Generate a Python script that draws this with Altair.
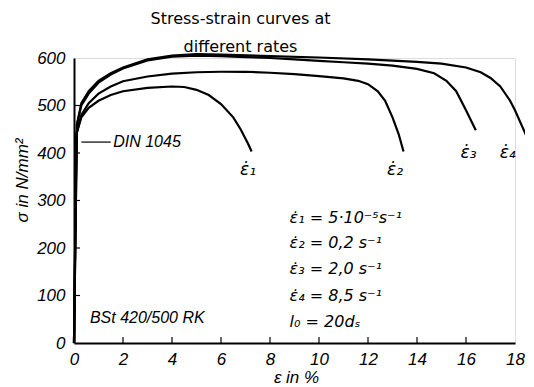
import altair as alt
import pandas as pd

# ---- data ----
e1_x = [0, 0.1, 0.3, 0.6, 1, 1.5, 2, 3, 4, 4.5, 5, 5.5, 6, 6.5, 6.8, 7.1, 7.25]
e1_y = [0, 440, 475, 495, 510, 522, 530, 537, 540, 539, 533, 522, 503, 475, 450, 420, 403]

e2_x = [0, 0.1, 0.3, 0.6, 1, 1.5, 2, 3, 4, 5, 6, 7, 8, 9, 10, 11, 11.6, 12, 12.4, 12.7, 13.0, 13.25, 13.45]
e2_y = [0, 440, 480, 505, 525, 540, 551, 561, 567, 570, 571, 571, 569, 566, 562, 557, 552, 545, 530, 510, 475, 440, 403]

e3_x = [0, 0.12, 0.3, 0.6, 1, 1.5, 2, 3, 4, 5, 6, 7, 8, 9, 10, 11, 12, 13, 14, 14.7, 15.2, 15.6, 16.0, 16.4]
e3_y = [0, 460, 500, 525, 548, 565, 578, 595, 603, 605, 604, 602, 600, 597, 594, 591, 588, 584, 577, 568, 552, 530, 490, 448]

e4_x = [0, 0.12, 0.3, 0.6, 1, 1.5, 2, 3, 4, 5, 6, 8, 10, 12, 14, 15, 16, 16.6, 17, 17.4, 17.8, 18.0, 18.3, 18.5]
e4_y = [0, 460, 505, 530, 552, 568, 580, 597, 605, 608, 607, 604, 601, 597, 592, 588, 580, 570, 558, 540, 510, 490, 455, 432]

curve_names = ["e1", "e2", "e3", "e4"]

label_text = ["ε̇₁", "ε̇₂", "ε̇₃", "ε̇₄"]
label_x = [7.1, 13.1, 16.1, 17.7]
label_y = [364, 364, 400, 400]

info_text = ["ε̇₁ = 5·10⁻⁵s⁻¹", "ε̇₂ = 0,2 s⁻¹", "ε̇₃ = 2,0 s⁻¹", "ε̇₄ = 8,5 s⁻¹", "l₀  = 20dₛ"]
info_x = [8.8, 8.8, 8.8, 8.8, 8.8]
info_y = [263, 210, 156, 99, 44]

din_text = ["DIN 1045"]
din_x = [1.6]
din_y = [423]
din_line_x = [0.3]
din_line_x2 = [1.5]

material_text = ["BSt 420/500 RK"]
material_x = [0.65]
material_y = [53]

x_ticks = [2, 4, 6, 8, 10, 12, 14, 16]
y_ticks = [100, 200, 300, 400, 500]

# ---- tables ----
rows = []
for name, xs, ys in zip(curve_names, [e1_x, e2_x, e3_x, e4_x], [e1_y, e2_y, e3_y, e4_y]):
    for i, (xv, yv) in enumerate(zip(xs, ys)):
        rows.append({"curve": name, "i": i, "x": xv, "y": yv})
curves = pd.DataFrame(rows)

labels = pd.DataFrame({"t": label_text, "x": label_x, "y": label_y})
info = pd.DataFrame({"t": info_text, "x": info_x, "y": info_y})
din = pd.DataFrame({"t": din_text, "x": din_x, "y": din_y, "lx": din_line_x, "lx2": din_line_x2})
mat = pd.DataFrame({"t": material_text, "x": material_x, "y": material_y})
xt = pd.DataFrame({"v": x_ticks})
yt = pd.DataFrame({"v": y_ticks})

FONT = "Liberation Sans"
MATH = "DejaVu Sans"
W, H = 441, 285

xs = alt.Scale(domain=[0, 18], nice=False, zero=False)
ys = alt.Scale(domain=[0, 600], nice=False)

xax = alt.Axis(values=[0, 2, 4, 6, 8, 10, 12, 14, 16, 18], tickSize=0, grid=False,
               labelFont=FONT, labelFontStyle="italic", labelFontSize=17, labelPadding=8,
               labelColor="black", labelFlush=False,
               domainColor="black", domainWidth=2,
               title="ε  in %", titleFont=FONT, titleFontStyle="italic", titleFontWeight="normal",
               titleFontSize=17, titleColor="black", titleX=222, titleY=34,
               titleBaseline="middle", titleAlign="center")
yax = alt.Axis(values=[0, 100, 200, 300, 400, 500, 600], tickSize=0, grid=False,
               labelFont=FONT, labelFontStyle="italic", labelFontSize=17, labelPadding=9,
               labelColor="black", labelFlush=False,
               domainColor="black", domainWidth=2,
               title="σ in N/mm²", titleFont=FONT, titleFontStyle="italic", titleFontWeight="normal",
               titleFontSize=17, titleColor="black", titleX=-52, titleY=122,
               titleBaseline="middle", titleAlign="center", titleAngle=-90)

lines = alt.Chart(curves).mark_line(color="black", strokeWidth=2.2, clip=False).encode(
    x=alt.X("x:Q", scale=xs, axis=xax),
    y=alt.Y("y:Q", scale=ys, axis=yax),
    detail="curve:N",
    order="i:Q",
)

xtick = alt.Chart(xt).mark_rule(color="black", strokeWidth=1.2).encode(
    x=alt.X("v:Q", scale=xs), y=alt.value(H), y2=alt.value(H - 6))
ytick = alt.Chart(yt).mark_rule(color="black", strokeWidth=1.2).encode(
    y=alt.Y("v:Q", scale=ys), x=alt.value(0), x2=alt.value(6))

lab = alt.Chart(labels).mark_text(font=MATH, fontStyle="italic", fontSize=17, color="black",
                                  align="center", baseline="middle").encode(
    x=alt.X("x:Q", scale=xs), y=alt.Y("y:Q", scale=ys), text="t:N")

inf = alt.Chart(info).mark_text(font=MATH, fontStyle="italic", fontSize=16, color="black",
                                align="left", baseline="middle").encode(
    x=alt.X("x:Q", scale=xs), y=alt.Y("y:Q", scale=ys), text="t:N")

dint = alt.Chart(din).mark_text(font=FONT, fontStyle="italic", fontSize=16, color="black",
                                align="left", baseline="middle").encode(
    x=alt.X("x:Q", scale=xs), y=alt.Y("y:Q", scale=ys), text="t:N")
dinl = alt.Chart(din).mark_rule(color="black", strokeWidth=1.2).encode(
    x=alt.X("lx:Q", scale=xs), x2="lx2:Q", y=alt.Y("y:Q", scale=ys))

matt = alt.Chart(mat).mark_text(font=FONT, fontStyle="italic", fontSize=16, color="black",
                                align="left", baseline="middle").encode(
    x=alt.X("x:Q", scale=xs), y=alt.Y("y:Q", scale=ys), text="t:N")

chart = alt.layer(lines, xtick, ytick, lab, inf, dinl, dint, matt).properties(
    width=W, height=H,
    autosize=alt.AutoSizeParams(type="none"),
    padding={"left": 66, "top": 50, "right": 10, "bottom": 44},
    title=alt.TitleParams(text=["Stress-strain curves at", "different rates"],
                          anchor="middle", dx=-54, dy=8, offset=2, fontSize=16,
                          font="DejaVu Sans", fontWeight="normal", color="black",
                          lineHeight=28),
).configure_view(stroke="#444", strokeWidth=1).configure(background="white")

chart.save("out.html", embed_options={"renderer": "svg", "actions": False})
